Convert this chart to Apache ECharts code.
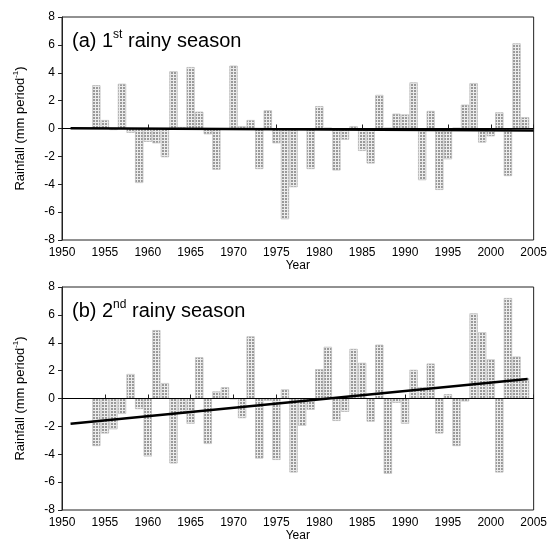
<!DOCTYPE html>
<html><head><meta charset="utf-8">
<script src="https://cdn.jsdelivr.net/npm/echarts@6/dist/echarts.min.js"></script>
<style>html,body{margin:0;padding:0;background:#fff}#c{width:550px;height:545px}</style>
</head><body><div id="c"></div>
<script>
// Years with data
const years = [1954,1955,1956,1957,1958,1959,1960,1961,1962,1963,1964,1965,1966,1967,1968,1969,1970,1971,1972,1973,1974,1975,1976,1977,1978,1979,1980,1981,1982,1983,1984,1985,1986,1987,1988,1989,1990,1991,1992,1993,1994,1995,1996,1997,1998,1999,2000,2001,2002,2003,2004];
// (a) 1st rainy season anomalies (mm period^-1)
const rain1 = [3.1,0.6,-0.1,3.2,-0.3,-3.9,-0.95,-1.05,-2.05,4.1,0.1,4.4,1.2,-0.4,-2.95,-0.05,4.5,0.15,0.6,-2.9,1.3,-1.05,-6.5,-4.2,-0.1,-2.9,1.6,0.05,-3.0,-0.8,0.15,-1.6,-2.5,2.4,0.05,1.05,1.0,3.3,-3.7,1.25,-4.4,-2.2,0.05,1.7,3.25,-1.0,-0.55,1.15,-3.4,6.1,0.8];
// (b) 2nd rainy season anomalies (mm period^-1)
const rain2 = [-3.4,-2.5,-2.2,-1.1,1.75,-0.75,-4.15,4.9,1.1,-4.65,-1.1,-1.8,2.95,-3.25,0.5,0.8,-0.05,-1.4,4.45,-4.3,-0.15,-4.4,0.65,-5.3,-1.95,-0.8,2.1,3.7,-1.6,-0.95,3.55,2.55,-1.65,3.85,-5.4,-0.3,-1.8,2.05,0.8,2.5,-2.5,0.3,-3.4,-0.2,6.1,4.75,2.8,-5.3,7.2,3.0,1.45];
// Linear trend end points [year, value]
const trendYears1 = [1951, 2005];
const trendVals1 = [0.02, -0.15];
const trendYears2 = [1951, 2004.3];
const trendVals2 = [-1.82, 1.4];
// Axis settings
const xMin = 1950, xMax = 2005, xStep = 5;
const yMin = -8, yMax = 8, yStep = 2;
const panelTitles = [['(a) 1', 'st', ' rainy season'], ['(b) 2', 'nd', ' rainy season']];

const FONT = 'Liberation Sans, Arial, sans-serif';
const pair = (xs, ys) => xs.map((x, i) => [x, ys[i]]);

const tops = [17, 287];
const H = 223;

const grids = tops.map(t => ({left: 62, right: 13, top: t, height: H, show: true, borderColor: '#222', borderWidth: 1, backgroundColor: 'transparent'}));

const xAxes = [0, 1].map(i => ({
  type: 'value', gridIndex: i, min: xMin, max: xMax, interval: xStep,
  axisLine: {show: true, lineStyle: {color: '#222', width: 1}},
  axisTick: {show: true, inside: true, length: 4, lineStyle: {color: '#222'}},
  axisLabel: {color: '#000', fontSize: 12, fontFamily: FONT, margin: 7, formatter: v => String(v)},
  splitLine: {show: false},
  name: 'Year', nameLocation: 'middle', nameGap: 19,
  nameTextStyle: {color: '#000', fontSize: 12, fontFamily: FONT}
}));

const yAxes = [0, 1].map(i => ({
  type: 'value', gridIndex: i, min: yMin, max: yMax, interval: yStep,
  axisLine: {show: true, lineStyle: {color: '#222', width: 1}},
  axisTick: {show: true, inside: false, length: 4, lineStyle: {color: '#222'}},
  axisLabel: {color: '#000', fontSize: 12, fontFamily: FONT, margin: 7},
  splitLine: {show: false},
  name: '{n|Rainfall (mm period}{s|-1}{n|)}', nameLocation: 'middle', nameGap: 34, nameRotate: 90,
  nameTextStyle: {rich: {
    n: {fontSize: 13, fontFamily: FONT, color: '#000', lineHeight: 16},
    s: {fontSize: 8, fontFamily: FONT, color: '#000', lineHeight: 10, verticalAlign: 'top'}
  }}
}));

const barStyle = {
  color: '#ececec',
  borderColor: '#c4c4c4', borderWidth: 0.5,
  decal: {symbol: 'rect', symbolSize: 1, color: '#999', dashArrayX: [2, 1], dashArrayY: [2, 1], rotation: 0}
};

const zeroLine = {
  silent: true, symbol: ['none', 'none'], label: {show: false},
  lineStyle: {color: '#000', width: 1, type: 'solid'},
  data: [{yAxis: 0}]
};

const series = [
  {type: 'bar', xAxisIndex: 0, yAxisIndex: 0, data: pair(years, rain1), barWidth: 8, itemStyle: barStyle, markLine: zeroLine, animation: false},
  {type: 'line', xAxisIndex: 0, yAxisIndex: 0, data: pair(trendYears1, trendVals1), symbol: 'none', lineStyle: {color: '#000', width: 2.5}, z: 5, animation: false},
  {type: 'bar', xAxisIndex: 1, yAxisIndex: 1, data: pair(years, rain2), barWidth: 8, itemStyle: barStyle, markLine: zeroLine, animation: false},
  {type: 'line', xAxisIndex: 1, yAxisIndex: 1, data: pair(trendYears2, trendVals2), symbol: 'none', lineStyle: {color: '#000', width: 2.5}, z: 5, animation: false}
];

const titles = panelTitles.map((p, i) => ({
  text: '{t|' + p[0] + '}{s|' + p[1] + '}{t|' + p[2] + '}',
  left: 67, top: tops[i] + 7,
  textStyle: {rich: {
    t: {fontSize: 20, fontFamily: FONT, fontWeight: 'normal', color: '#000', lineHeight: 24},
    s: {fontSize: 12, fontFamily: FONT, fontWeight: 'normal', color: '#000', lineHeight: 13, verticalAlign: 'top'}
  }}
}));

const chart = echarts.init(document.getElementById('c'), null, {renderer: 'canvas'});
chart.setOption({
  animation: false,
  backgroundColor: '#fff',
  title: titles,
  grid: grids,
  xAxis: xAxes,
  yAxis: yAxes,
  series: series
});
</script>
</body></html>
